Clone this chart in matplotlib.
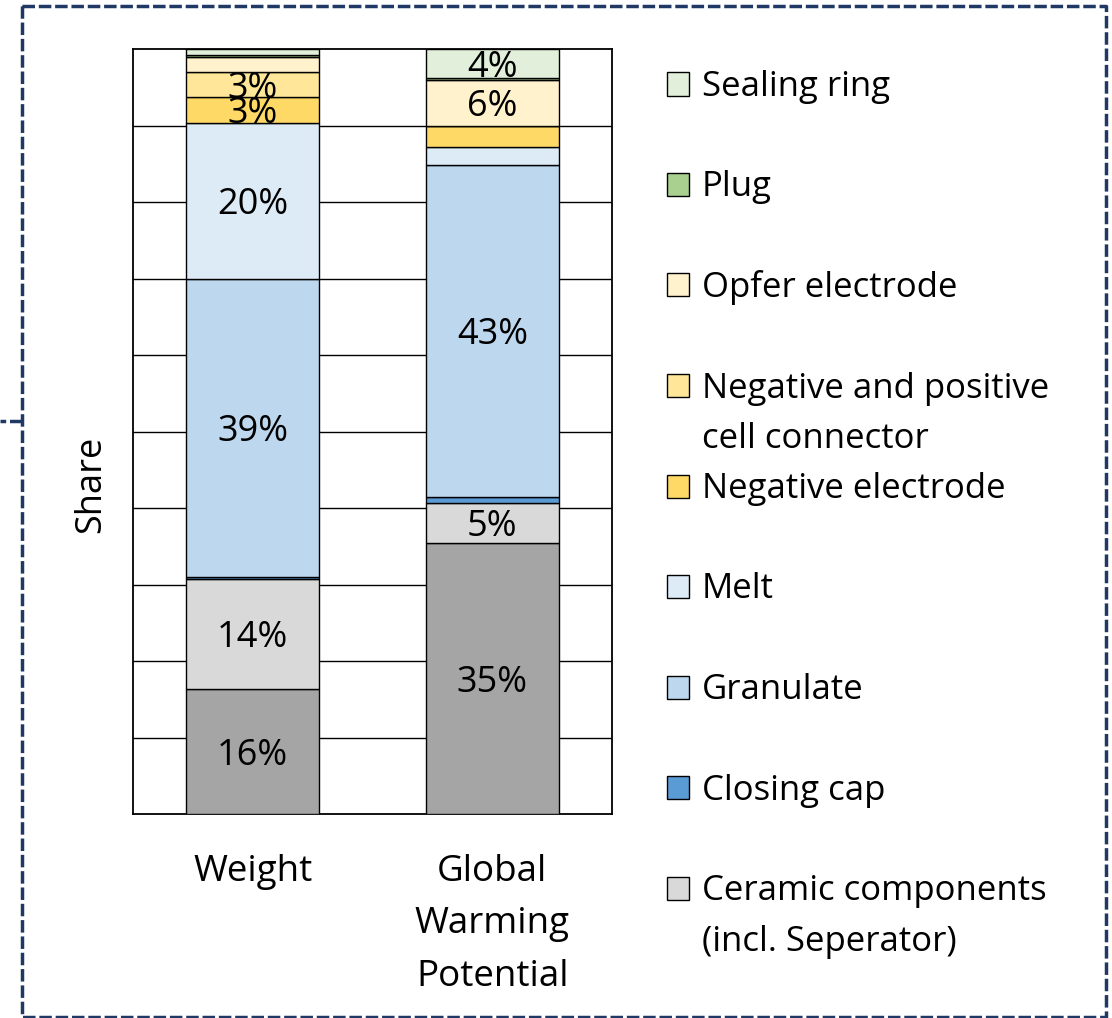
import matplotlib
matplotlib.use("Agg")
import matplotlib.pyplot as plt
from matplotlib.lines import Line2D
from matplotlib.patches import Rectangle
import numpy as np

plt.rcParams["font.family"] = ["Open Sans", "DejaVu Sans"]

categories = ["Weight", "Global\nWarming\nPotential"]

# stacking order, bottom to top (first segment is not listed in the legend)
components = [
    None,
    "Ceramic components\n(incl. Seperator)",
    "Closing cap",
    "Granulate",
    "Melt",
    "Negative electrode",
    "Negative and positive\ncell connector",
    "Opfer electrode",
    "Plug",
    "Sealing ring",
]
colors = ["#A5A5A5", "#D9D9D9", "#5B9BD5", "#BDD7EE", "#DDEBF7",
          "#FFD966", "#FFE699", "#FFF2CC", "#A9D08E", "#E2EFDA"]

# shares in percent, same order as components
weight_share = [16.3, 14.4, 0.3, 38.9, 20.4, 3.4, 3.3, 2.0, 0.2, 0.8]
gwp_share = [35.4, 5.3, 0.8, 43.4, 2.3, 2.7, 0.0, 6.0, 0.3, 3.8]

W, H = 1112, 1018
fig = plt.figure(figsize=(W / 100, H / 100), dpi=100)


def fx(px):
    return px / W


def fy(py):
    return 1 - py / H


ax = fig.add_axes([fx(133), fy(814), fx(612) - fx(133), fy(49) - fy(814)])

x = np.arange(len(categories))
shares = np.array([weight_share, gwp_share]) / 100.0
bottom = np.zeros(len(categories))
for i, (name, col) in enumerate(zip(components, colors)):
    vals = shares[:, i]
    cont = ax.bar(x, vals, width=0.555, bottom=bottom, color=col,
                  edgecolor="black", linewidth=1.0, zorder=3)
    labels = [f"{round(v * 100)}%" if v * 100 >= 3 else "" for v in vals]
    texts = ax.bar_label(cont, labels=labels, label_type="center", fontsize=26,
                         color="black", zorder=4)
    for t in texts:
        t.xyann = (0, -3)
    bottom += vals

ax.set_xlim(-0.5, 1.5)
ax.set_ylim(0, 1)
ax.set_yticks(np.arange(0.1, 1.0, 0.1))
ax.yaxis.grid(True, color="black", linewidth=1.0)
ax.set_axisbelow(True)
ax.tick_params(axis="both", length=0)
ax.set_yticklabels([])
ax.set_xticks(x)
ax.set_xticklabels(categories, fontsize=26.5, linespacing=1.6)
ax.tick_params(axis="x", pad=29)
for sp in ax.spines.values():
    sp.set_linewidth(1.3)
    sp.set_color("black")
ax.set_ylabel("Share", fontsize=26)
ax.yaxis.set_label_coords((109 - 133) / 479, (814 - 484) / 765)

# legend, top entry first
entries = [(n, c) for n, c in zip(components, colors) if n is not None][::-1]
for k, (name, col) in enumerate(entries):
    cy = 84 + 100.5 * k
    fig.add_artist(Rectangle((fx(667), fy(cy + 11.5)), fx(689) - fx(667),
                             fy(cy - 11.5) - fy(cy + 11.5), transform=fig.transFigure,
                             facecolor=col, edgecolor="black", linewidth=1.0))
    for j, line in enumerate(name.split("\n")):
        fig.text(fx(702), fy(cy + 12 + 51 * j), line, fontsize=25,
                 ha="left", va="baseline", color="black")

# dashed frame with a short connector stub on the left
frame_kw = dict(color="#203864", linewidth=2.5, linestyle=(0, (3.6, 1.1)),
                transform=fig.transFigure)
fig.add_artist(Line2D([fx(22), fx(1106), fx(1106), fx(22), fx(22)],
                      [fy(6), fy(6), fy(1016.5), fy(1016.5), fy(6)], **frame_kw))
fig.add_artist(Line2D([fx(22), fx(0)], [fy(421), fy(421)], **frame_kw))

fig.savefig("out.png", dpi=100)
